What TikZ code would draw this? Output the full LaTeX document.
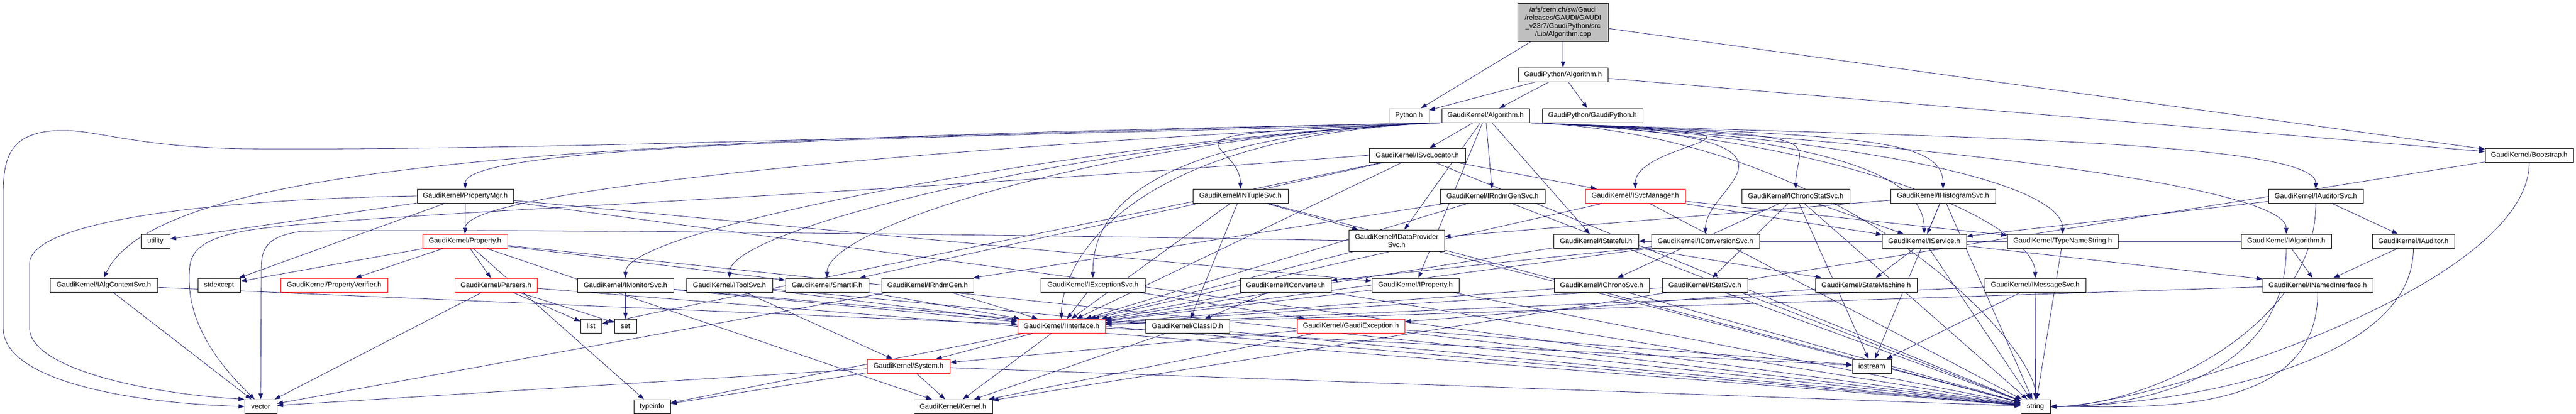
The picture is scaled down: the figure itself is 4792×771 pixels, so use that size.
\documentclass[tikz,border=0pt]{standalone}
\usepackage{fontspec}
\setmainfont{Liberation Sans}
\usetikzlibrary{arrows.meta,backgrounds}

\definecolor{edgeblue}{RGB}{25,25,112}
\definecolor{boxred}{RGB}{255,0,0}
\definecolor{boxgray}{RGB}{191,191,191}

\tikzset{
  hdr/.style={draw=black, fill=white, line width=0.9pt, inner sep=0pt,
    minimum height=26pt, font=\fontsize{13}{15}\selectfont},
  redhdr/.style={hdr, draw=boxred},
  e/.style={color=edgeblue, line width=0.8pt, -{Triangle[length=11pt,width=8pt]}},
  fanleft/.style={to path={.. controls +(-600,-25) and +(0,110) .. (\tikztotarget)}},
  fanright/.style={to path={.. controls +(600,-25) and +(0,110) .. (\tikztotarget)}},
  dropright/.style={to path={.. controls +(0,-250) and +(200,0) .. (\tikztotarget)}},
}

\begin{document}
\begin{tikzpicture}[x=1pt, y=1pt]
        \useasboundingbox (0,0) rectangle (4792,771);

        % source file and the GaudiPython headers
        \node[hdr, fill=boxgray, minimum width=169pt, minimum height=71pt, align=center] (cpp) at (2907.5,729.5)
            {/afs/cern.ch/sw/Gaudi\\/releases/GAUDI/GAUDI\\\_v23r7/GaudiPython/src\\/Lib/Algorithm.cpp};
        \node[hdr, minimum width=167pt] (gpalg) at (2907.5,632) {GaudiPython/Algorithm.h};
        \node[hdr, draw=boxgray, minimum width=74pt] (python) at (2621,556) {Python.h};
        \node[hdr, minimum width=163pt] (gkalg) at (2763.5,556) {GaudiKernel/Algorithm.h};
        \node[hdr, minimum width=187pt] (gpgp) at (2962.5,556) {GaudiPython/GaudiPython.h};
        \node[hdr, minimum width=179pt] (isvcloc) at (2636.5,482) {GaudiKernel/ISvcLocator.h};
        \node[hdr, minimum width=164pt] (bootstrap) at (4705,482) {GaudiKernel/Bootstrap.h};

        % row 4
        \node[hdr, minimum width=179pt] (propmgr) at (865.5,406) {GaudiKernel/PropertyMgr.h};
        \node[hdr, minimum width=177pt] (intuple) at (2307.5,406) {GaudiKernel/INTupleSvc.h};
        \node[hdr, minimum width=195pt] (irndmgensvc) at (2776.5,406) {GaudiKernel/IRndmGenSvc.h};
        \node[redhdr, minimum width=186pt] (isvcmgr) at (3042,406) {GaudiKernel/ISvcManager.h};
        \node[hdr, minimum width=201pt] (ichronostat) at (3340.5,406) {GaudiKernel/IChronoStatSvc.h};
        \node[hdr, minimum width=195pt] (ihisto) at (3614.5,406) {GaudiKernel/IHistogramSvc.h};
        \node[hdr, minimum width=176pt] (iauditorsvc) at (4308,406) {GaudiKernel/IAuditorSvc.h};

        % row 5
        \node[hdr, minimum width=54pt] (utility) at (289,322) {utility};
        \node[redhdr, minimum width=158pt] (property) at (865,322) {GaudiKernel/Property.h};
        \node[hdr, minimum width=178pt, minimum height=40pt, align=center] (idataprov) at (2598,323) {GaudiKernel/IDataProvider\\Svc.h};
        \node[hdr, minimum width=158pt] (istateful) at (2969,322) {GaudiKernel/IStateful.h};
        \node[hdr, minimum width=201pt] (iconvsvc) at (3172.5,322) {GaudiKernel/IConversionSvc.h};
        \node[hdr, minimum width=157pt] (iservice) at (3579.5,322) {GaudiKernel/IService.h};
        \node[hdr, minimum width=206pt] (typename) at (3837,322) {GaudiKernel/TypeNameString.h};
        \node[hdr, minimum width=168pt] (ialgorithm) at (4253,322) {GaudiKernel/IAlgorithm.h};
        \node[hdr, minimum width=153pt] (iauditor) at (4489.5,322) {GaudiKernel/IAuditor.h};

        % row 6
        \node[hdr, minimum width=200pt] (ialgctx) at (193,240) {GaudiKernel/IAlgContextSvc.h};
        \node[hdr, minimum width=79pt] (stdexcept) at (407.5,240) {stdexcept};
        \node[redhdr, minimum width=199pt] (propverif) at (621.5,240) {GaudiKernel/PropertyVerifier.h};
        \node[redhdr, minimum width=153pt] (parsers) at (922.5,240) {GaudiKernel/Parsers.h};
        \node[hdr, minimum width=179pt] (imonitor) at (1163.5,240) {GaudiKernel/IMonitorSvc.h};
        \node[hdr, minimum width=160pt] (itoolsvc) at (1357,240) {GaudiKernel/IToolSvc.h};
        \node[hdr, minimum width=155pt] (smartif) at (1538.5,240) {GaudiKernel/SmartIF.h};
        \node[hdr, minimum width=171pt] (irndmgen) at (1725.5,240) {GaudiKernel/IRndmGen.h};
        \node[hdr, minimum width=194pt] (iexcept) at (2033,240) {GaudiKernel/IExceptionSvc.h};
        \node[hdr, minimum width=169pt] (iconverter) at (2391.5,240) {GaudiKernel/IConverter.h};
        \node[hdr, minimum width=162pt] (iproperty) at (2633,240) {GaudiKernel/IProperty.h};
        \node[hdr, minimum width=177pt] (ichrono) at (2979.5,240) {GaudiKernel/IChronoSvc.h};
        \node[hdr, minimum width=159pt] (istatsvc) at (3171.5,240) {GaudiKernel/IStatSvc.h};
        \node[hdr, minimum width=189pt] (statemachine) at (3471.5,240) {GaudiKernel/StateMachine.h};
        \node[hdr, minimum width=188pt] (imessage) at (3786,240) {GaudiKernel/IMessageSvc.h};
        \node[hdr, minimum width=205pt] (inamed) at (4311.5,240) {GaudiKernel/INamedInterface.h};

        % row 7
        \node[hdr, minimum width=39pt] (list) at (1099.5,164) {list};
        \node[hdr, minimum width=41pt] (set) at (1163.5,164) {set};
        \node[redhdr, minimum width=163pt] (iinterface) at (1974.5,164) {GaudiKernel/IInterface.h};
        \node[hdr, minimum width=156pt] (classid) at (2209,164) {GaudiKernel/ClassID.h};
        \node[redhdr, minimum width=200pt] (gaudiexc) at (2513,164) {GaudiKernel/GaudiException.h};
        \node[redhdr, minimum width=154pt] (system) at (1690,89) {GaudiKernel/System.h};
        \node[hdr, minimum width=72pt] (iostream) at (3482,89) {iostream};

        % bottom row
        \node[hdr, minimum width=60pt] (vector) at (485,14) {vector};
        \node[hdr, minimum width=68pt] (typeinfo) at (1213,14) {typeinfo};
        \node[hdr, minimum width=146pt] (kernel) at (1773,14) {GaudiKernel/Kernel.h};
        \node[hdr, minimum width=55pt] (string) at (3786.5,14) {string};

        \begin{scope}[on background layer]
        \path[e] (cpp) edge (python) edge (gpalg) edge (bootstrap);
        \path[e] (gpalg) edge (python) edge (gkalg) edge (gpgp) edge (bootstrap);
        \path[e] (gkalg) edge (isvcloc) edge (irndmgensvc) edge (idataprov) edge (iproperty) edge (istateful);
        \path[e] (gkalg.south west) edge[fanleft] (propmgr) edge[fanleft] (property) edge[fanleft] (intuple)
            edge[fanleft] (iexcept) edge[fanleft] (imonitor) edge[fanleft] (itoolsvc) edge[fanleft] (smartif)
            edge[fanleft] (iinterface);
        \path[e] (gkalg.south east) edge[fanright] (isvcmgr) edge[fanright] (iconvsvc) edge[fanright] (ichronostat)
            edge[fanright] (ihisto) edge[fanright] (iservice) edge[fanright] (iauditorsvc)
            edge[fanright] (ialgorithm) edge[fanright] (imessage) edge[fanright] (typename) edge[fanright] (string);
        \draw[e] (gkalg.south west) .. controls (1800,522) and (1000,490) .. (455,494)
            .. controls (250,497) and (180,530) .. (110,528) .. controls (20,525) and (6,480) .. (6,410)
            -- (6,160) .. controls (6,60) and (250,20) .. (vector.west);
        \draw[e] (gkalg.south west) .. controls (1200,512) and (300,480) .. (ialgctx.north);
        \draw[e] (propmgr.west) .. controls (400,400) and (55,360) .. (55,280) -- (55,160)
            .. controls (55,90) and (250,40) .. (vector.north west);
        \draw[e] (isvcloc.west) .. controls (1500,400) and (600,370) .. (450,340)
            .. controls (352,320) and (352,290) .. (352,250) .. controls (352,150) and (430,70) .. (vector.130);
        \draw[e] (idataprov.west) .. controls (1500,340) and (700,345) .. (560,340)
            .. controls (486,330) and (486,300) .. (486,260) -- (vector.north);

        \path[e] (isvcloc) edge (iinterface) edge (smartif) edge (isvcmgr) edge (list) edge (string);
        \path[e] (propmgr) edge (utility) edge (stdexcept) edge (property) edge (iproperty) edge (string);
        \path[e] (property) edge (stdexcept) edge (propverif) edge (parsers) edge (typeinfo) edge (kernel)
            edge (string) edge (smartif);
        \path[e] (parsers) edge (vector) edge (list) edge (set) edge (string);
        \path[e] (ialgctx) edge (vector) edge (iinterface);
        \path[e] (imonitor) edge (set) edge (iinterface) edge (string);
        \path[e] (itoolsvc) edge (iinterface) edge (system) edge (string);
        \path[e] (smartif) edge (iinterface);
        \path[e] (irndmgen) edge (vector) edge (iinterface);
        \path[e] (iexcept) edge (iinterface) edge (gaudiexc);
        \path[e] (intuple) edge (classid) edge (idataprov) edge (iinterface) edge (string);
        \path[e] (iconverter) edge (classid) edge (iinterface) edge (string);
        \path[e] (iinterface) edge (system) edge (kernel) edge (typeinfo) edge (iostream);
        \path[e] (classid) edge (kernel);
        \path[e] (system) edge (kernel) edge (vector) edge (typeinfo) edge (string);
        \path[e] (gaudiexc) edge (system) edge (iostream) edge (string) edge (kernel);
        \path[e] (iproperty) edge (iinterface) edge (string);
        \path[e] (idataprov) edge (iinterface) edge (string);
        \path[e] (irndmgensvc) edge (irndmgen) edge (iinterface) edge (string);
        \path[e] (isvcmgr) edge (iservice) edge (iinterface) edge (typename) edge (string);
        \path[e] (istateful) edge (iinterface) edge (statemachine);
        \path[e] (iconvsvc) edge (iconverter) edge (iinterface);
        \path[e] (ichronostat) edge (ichrono) edge (istatsvc) edge (iservice) edge (iostream) edge (string);
        \path[e] (ihisto) edge (iservice) edge (idataprov) edge (iostream) edge (string);
        \path[e] (iservice) edge (inamed) edge (statemachine) edge (string);
        \path[e] (ichrono) edge (iinterface) edge (string);
        \path[e] (istatsvc) edge (iinterface) edge (string);
        \path[e] (statemachine) edge (gaudiexc);
        \path[e] (typename) edge (string);
        \path[e] (imessage) edge (string) edge (iostream) edge (iinterface);
        \path[e] (iauditorsvc) edge (iauditor) edge (iservice) edge[dropright] (string);
        \path[e] (ialgorithm) edge (inamed) edge (istateful) edge[dropright] (string);
        \path[e] (iauditor) edge (inamed) edge[dropright] (string);
        \path[e] (inamed) edge (iinterface) edge[dropright] (string);
        \path[e] (bootstrap) edge (kernel) edge[dropright] (string);
        \end{scope}

    \end{tikzpicture}
\end{document}
